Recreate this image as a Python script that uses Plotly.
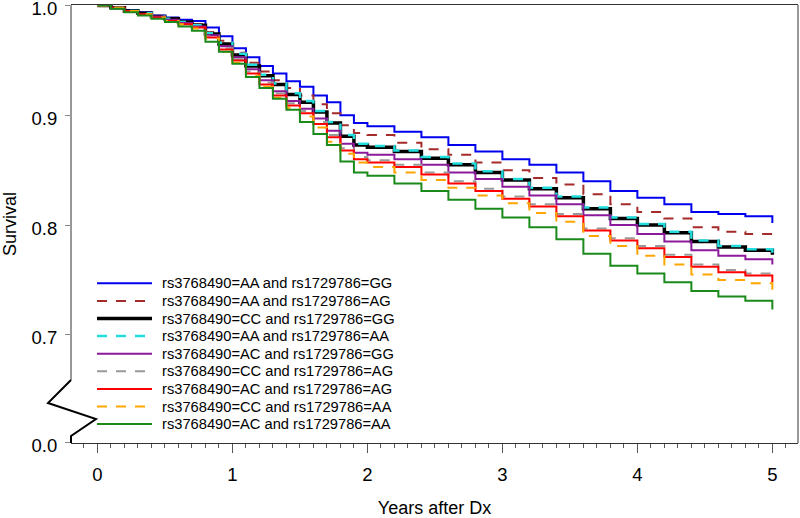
import plotly.graph_objects as go

# ---- data ----
years = [0, 0.1, 0.2, 0.3, 0.4, 0.5, 0.6, 0.7, 0.8, 0.9, 1.0, 1.1, 1.2, 1.3, 1.4, 1.5,
         1.6, 1.7, 1.8, 1.9, 2.0, 2.2, 2.4, 2.6, 2.8, 3.0, 3.2, 3.4, 3.6, 3.8, 4.0,
         4.2, 4.4, 4.6, 4.8, 5.0]

aa_gg = [1.0, 0.998, 0.996, 0.994, 0.991, 0.989, 0.987, 0.986, 0.980, 0.972, 0.961, 0.953,
         0.945, 0.938, 0.931, 0.926, 0.918, 0.912, 0.900, 0.893, 0.890, 0.885, 0.880, 0.873,
         0.867, 0.860, 0.855, 0.848, 0.840, 0.831, 0.825, 0.819, 0.812, 0.810, 0.808, 0.802]
aa_ag = [1.0, 0.998, 0.995, 0.993, 0.990, 0.988, 0.985, 0.983, 0.976, 0.968, 0.957, 0.948,
         0.940, 0.932, 0.925, 0.918, 0.910, 0.902, 0.891, 0.884, 0.882, 0.875, 0.869, 0.864,
         0.857, 0.850, 0.843, 0.837, 0.828, 0.819, 0.812, 0.806, 0.798, 0.794, 0.792, 0.788]
cc_gg = [1.0, 0.998, 0.995, 0.993, 0.990, 0.988, 0.985, 0.982, 0.974, 0.965, 0.955, 0.945,
         0.936, 0.928, 0.919, 0.912, 0.903, 0.893, 0.881, 0.873, 0.871, 0.867, 0.861, 0.855,
         0.848, 0.841, 0.833, 0.825, 0.815, 0.806, 0.800, 0.793, 0.785, 0.780, 0.777, 0.773]
aa_aa = [1.0, 0.998, 0.995, 0.993, 0.990, 0.988, 0.985, 0.982, 0.975, 0.966, 0.956, 0.946,
         0.937, 0.929, 0.920, 0.913, 0.904, 0.894, 0.882, 0.874, 0.872, 0.868, 0.862, 0.856,
         0.849, 0.842, 0.834, 0.826, 0.816, 0.807, 0.801, 0.794, 0.786, 0.781, 0.778, 0.774]
ac_gg = [1.0, 0.998, 0.995, 0.992, 0.990, 0.987, 0.984, 0.981, 0.973, 0.963, 0.953, 0.942,
         0.932, 0.922, 0.913, 0.906, 0.897, 0.886, 0.874, 0.866, 0.864, 0.860, 0.855, 0.848,
         0.842, 0.835, 0.827, 0.819, 0.809, 0.800, 0.792, 0.785, 0.777, 0.772, 0.769, 0.764]
cc_ag = [1.0, 0.998, 0.995, 0.992, 0.989, 0.986, 0.983, 0.980, 0.972, 0.961, 0.951, 0.940,
         0.930, 0.920, 0.911, 0.904, 0.894, 0.882, 0.870, 0.862, 0.859, 0.855, 0.848, 0.840,
         0.833, 0.826, 0.819, 0.810, 0.797, 0.788, 0.781, 0.773, 0.764, 0.759, 0.756, 0.750]
ac_ag = [1.0, 0.998, 0.995, 0.992, 0.989, 0.986, 0.983, 0.980, 0.971, 0.960, 0.950, 0.938,
         0.928, 0.918, 0.909, 0.902, 0.892, 0.880, 0.868, 0.860, 0.857, 0.853, 0.846, 0.838,
         0.831, 0.824, 0.817, 0.808, 0.795, 0.786, 0.779, 0.771, 0.762, 0.757, 0.754, 0.748]
cc_aa = [1.0, 0.998, 0.995, 0.992, 0.989, 0.986, 0.983, 0.979, 0.970, 0.958, 0.948, 0.936,
         0.926, 0.916, 0.907, 0.899, 0.889, 0.876, 0.865, 0.857, 0.853, 0.848, 0.841, 0.834,
         0.827, 0.820, 0.811, 0.803, 0.790, 0.781, 0.772, 0.764, 0.755, 0.750, 0.747, 0.741]
ac_aa = [1.0, 0.997, 0.994, 0.991, 0.988, 0.985, 0.981, 0.977, 0.967, 0.958, 0.947, 0.935,
         0.925, 0.915, 0.905, 0.894, 0.883, 0.873, 0.858, 0.848, 0.845, 0.838, 0.831, 0.823,
         0.815, 0.807, 0.798, 0.787, 0.774, 0.763, 0.756, 0.748, 0.740, 0.735, 0.731, 0.723]

series_names = [
    "rs3768490=AA and rs1729786=GG",
    "rs3768490=AA and rs1729786=AG",
    "rs3768490=CC and rs1729786=GG",
    "rs3768490=AA and rs1729786=AA",
    "rs3768490=AC and rs1729786=GG",
    "rs3768490=CC and rs1729786=AG",
    "rs3768490=AC and rs1729786=AG",
    "rs3768490=CC and rs1729786=AA",
    "rs3768490=AC and rs1729786=AA",
]
series_values = [aa_gg, aa_ag, cc_gg, aa_aa, ac_gg, cc_ag, ac_ag, cc_aa, ac_aa]

y_tick_vals = [0.602, 0.7, 0.8, 0.9, 1.0]
y_tick_text = ["0.0", "0.7", "0.8", "0.9", "1.0"]
x_tick_vals = [0, 1, 2, 3, 4, 5]

# ---- styles ----
colors = ["#0000EE", "#A52A2A", "#000000", "#22DDDD", "#8B1A9B",
          "#999999", "#FF0000", "#FFA500", "#1A8A1A"]
dashes = ["solid", "10px,9px", "solid", "10px,9px", "solid",
          "10px,9px", "solid", "10px,9px", "solid"]
widths = [2, 2, 3.5, 2.5, 2, 2, 2, 2, 2]

FONT = "Liberation Sans, Arial, sans-serif"

L, R, T, B = 71, 2, 5, 75
W, H = 800, 518
pw, ph = W - L - R, H - T - B

def px(xp):
    return (xp - L) / pw

def py(yp):
    return (H - B - yp) / ph

fig = go.Figure()
for name, vals, c, d, w in zip(series_names, series_values, colors, dashes, widths):
    fig.add_trace(go.Scatter(
        x=years, y=vals, name=name, mode="lines", showlegend=False,
        line=dict(color=c, width=w, dash=d, shape="hv"),
    ))

shapes = [
    # right frame line
    dict(type="line", xref="paper", yref="paper", x0=1, x1=1, y0=0, y1=1,
         line=dict(color="#333333", width=1)),
    # left axis line (upper part)
    dict(type="line", xref="paper", yref="paper", x0=0, x1=0, y0=py(380), y1=1,
         line=dict(color="#333333", width=1)),
    # axis break zigzag
    dict(type="path", xref="paper", yref="paper",
         path=(f"M {px(71)} {py(380)} L {px(48)} {py(403)} L {px(96)} {py(419)} "
               f"L {px(71)} {py(436)} L {px(71)} {py(443)}"),
         line=dict(color="#000000", width=2)),
]

# legend (keys + labels), laid out like the reference's legend block
annotations = []
row0, row_step = 283.3, 17.6
for i, (name, c, d, w) in enumerate(zip(series_names, colors, dashes, widths)):
    yy = py(row0 + i * row_step)
    shapes.append(dict(type="line", xref="paper", yref="paper",
                       x0=px(97), x1=px(152), y0=yy, y1=yy,
                       line=dict(color=c, width=w, dash=d)))
    annotations.append(dict(xref="paper", yref="paper", x=px(160), y=yy,
                            xanchor="left", yanchor="middle", showarrow=False,
                            text=name, font=dict(family=FONT, size=14.7, color="#000000")))

fig.update_layout(
    width=W, height=H,
    margin=dict(l=L, r=R, t=T, b=B),
    plot_bgcolor="white", paper_bgcolor="white",
    font=dict(family=FONT, color="#000000"),
    shapes=shapes,
    annotations=annotations,
    showlegend=False,
    xaxis=dict(
        range=[-0.196, 5.19], tickvals=x_tick_vals, automargin=False,
        ticks="outside", ticklen=9, tickcolor="#555555", tickwidth=1,
        showline=True, linecolor="#333333", linewidth=1, mirror=True,
        showgrid=False, zeroline=False,
        tickfont=dict(size=18.5, family=FONT),
        ticklabelstandoff=6,
        minor=dict(dtick=0.1, tick0=0, ticks="outside", ticklen=4,
                   tickcolor="#555555", showgrid=False),
        title=dict(text="Years after Dx", font=dict(size=18, family=FONT), standoff=23),
    ),
    yaxis=dict(
        range=[0.6015, 1.0005], tickvals=y_tick_vals, ticktext=y_tick_text, automargin=False,
        ticks="outside", ticklen=5, tickcolor="#888888", tickwidth=1,
        showline=False, showgrid=False, zeroline=False,
        tickfont=dict(size=18.5, family=FONT), ticklabeloverflow="allow",
        ticklabelstandoff=4, ticklabelshift=3,
        title=dict(text="Survival", font=dict(size=18, family=FONT), standoff=10),
    ),
)

fig.write_html("out.html", config={"displayModeBar": False},
               post_script="document.body.style.margin='0';")
